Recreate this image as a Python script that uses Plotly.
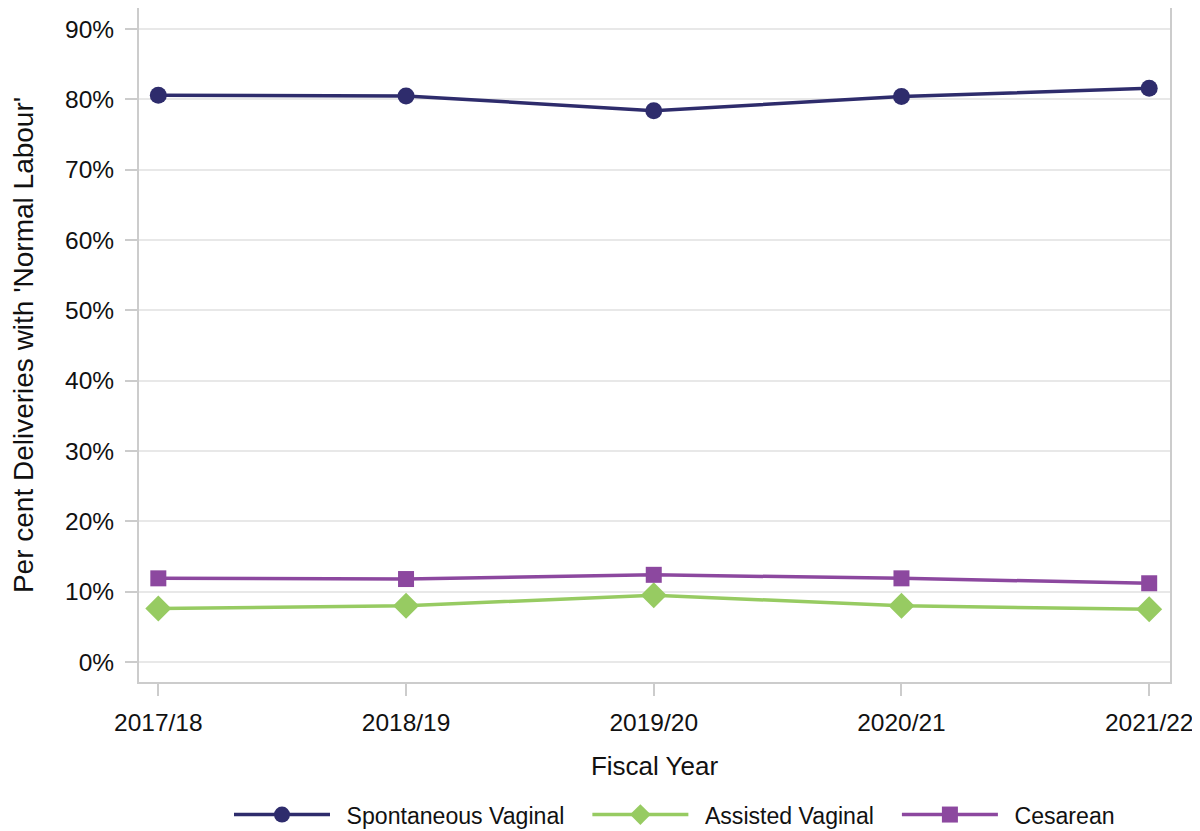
import plotly.graph_objects as go

years = ["2017/18", "2018/19", "2019/20", "2020/21", "2021/22"]
spontaneous = [80.6, 80.5, 78.4, 80.4, 81.6]
assisted = [7.6, 8.0, 9.5, 8.0, 7.5]
cesarean = [11.9, 11.8, 12.4, 11.9, 11.2]
y_ticks = [0, 10, 20, 30, 40, 50, 60, 70, 80, 90]
y_ticktext = [f"{v}%" for v in y_ticks]

series = [
    ("Spontaneous Vaginal", spontaneous, "#2E2C6C", "circle", 17),
    ("Assisted Vaginal", assisted, "#97CB62", "diamond", 20),
    ("Cesarean", cesarean, "#8C489F", "square", 16),
]

LEAD = "\u2002"          # en space between symbol and label
TRAIL = "\u2002\u00a0"   # gap before next legend entry
fig = go.Figure()
for name, vals, color, sym, sz in series:
    fig.add_trace(go.Scatter(
        x=years, y=vals, name=LEAD + name + TRAIL, mode="lines+markers",
        line=dict(color=color, width=3.5),
        marker=dict(symbol=sym, size=sz, color=color),
    ))

font = "Liberation Sans, Arial, sans-serif"
fig.update_layout(
    width=1192, height=823,
    margin=dict(l=131, r=30, t=0, b=149, autoexpand=False),
    paper_bgcolor="white", plot_bgcolor="white",
    font=dict(family=font, size=24.5, color="#111111"),
    showlegend=True,
    legend=dict(orientation="h", xref="container", yref="container",
                x=0.1854, xanchor="left", y=0.0194, yanchor="middle",
                itemwidth=96, font=dict(size=23.1)),
    xaxis=dict(
        range=[-0.078, 4.084], showgrid=False, automargin=False,
        showline=True, linecolor="#CCCCCC", linewidth=2, mirror=True,
        ticks="outside", ticklen=12, tickwidth=2, tickcolor="#CCCCCC",
        ticklabelstandoff=6,
        title=dict(text="Fiscal Year", standoff=21, font=dict(size=26)),
    ),
    yaxis=dict(
        range=[-2.84, 93.0], tickmode="array", tickvals=y_ticks, ticktext=y_ticktext,
        showgrid=True, gridcolor="#E8E8E8", gridwidth=2, automargin=False,
        zeroline=False,
        showline=True, linecolor="#CCCCCC", linewidth=2, mirror=True,
        ticks="outside", ticklen=12, tickwidth=2, tickcolor="#CCCCCC",
        ticklabelstandoff=6,
        title=dict(text="Per cent Deliveries with 'Normal Labour'", standoff=28, font=dict(size=28)),
    ),
)

fig.write_html("out.html")
